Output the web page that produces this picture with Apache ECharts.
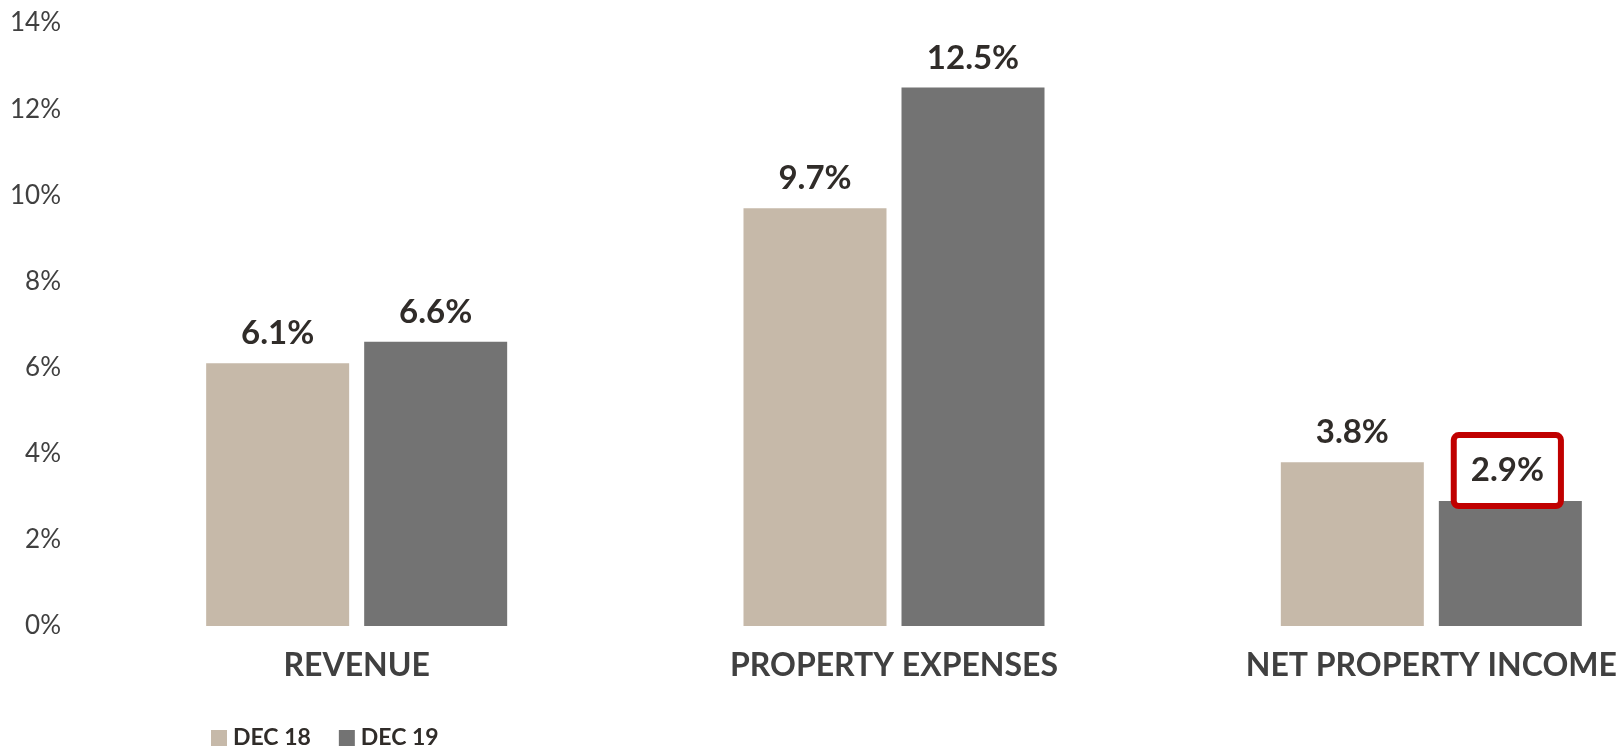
<!DOCTYPE html>
<html>
<head>
<meta charset="utf-8">
<script src="https://cdn.jsdelivr.net/npm/echarts@6/dist/echarts.min.js"></script>
<style>
  html, body { margin: 0; padding: 0; background: #ffffff; }
  #chart { width: 1621px; height: 747px; }
</style>
</head>
<body>
<div id="chart"></div>
<script>
// Year-on-year growth by line item
const categories = ['REVENUE', 'PROPERTY EXPENSES', 'NET PROPERTY INCOME'];
const seriesNames = ['DEC 18', 'DEC 19'];
const dec18 = [6.1, 9.7, 3.8];
const dec19 = [6.6, 12.5, 2.9];
const yTicks = [0, 2, 4, 6, 8, 10, 12, 14];
// index of the highlighted DEC 19 value
const highlightIndex = 2;

const FONT = 'Lato, "Open Sans", sans-serif';
const labelText = { fontFamily: FONT, fontWeight: 'bold', fontSize: 33, color: '#302c29' };

const chart = echarts.init(document.getElementById('chart'), null, { renderer: 'canvas' });

chart.setOption({
  animation: false,
  backgroundColor: '#ffffff',
  // the plot runs past the right edge of the canvas, clipping the last category label
  grid: { left: 88, width: 1612, top: 23, bottom: 121, containLabel: false, outerBoundsMode: 'none' },
  legend: {
    data: seriesNames,
    left: 206,
    top: 721,
    itemWidth: 16,
    itemHeight: 16,
    itemGap: 28,
    icon: 'rect',
    textStyle: { fontFamily: FONT, fontWeight: 'bold', fontSize: 23, lineHeight: 24, color: '#302c29', padding: [0, 0, 0, 1] }
  },
  xAxis: {
    type: 'category',
    data: categories,
    axisLine: { show: false },
    axisTick: { show: false },
    axisLabel: {
      margin: 24,
      fontFamily: FONT,
      fontWeight: 'bold',
      fontSize: 32,
      color: '#404040'
    }
  },
  yAxis: {
    type: 'value',
    min: yTicks[0],
    max: yTicks[yTicks.length - 1],
    interval: yTicks[1] - yTicks[0],
    splitLine: { show: false },
    axisLine: { show: false },
    axisTick: { show: false },
    axisLabel: {
      margin: 27,
      fontFamily: FONT,
      fontSize: 26,
      color: '#404040',
      formatter: v => v + '%'
    }
  },
  series: [
    {
      name: seriesNames[0],
      type: 'bar',
      data: dec18,
      barWidth: 143,
      barGap: '10.5%',
      itemStyle: { color: '#c6b9a9' },
      label: {
        show: true,
        position: 'top',
        distance: 13,
        formatter: p => p.value.toFixed(1) + '%',
        ...labelText
      }
    },
    {
      name: seriesNames[1],
      type: 'bar',
      data: dec19.map((v, i) => i === highlightIndex ? {
        value: v,
        label: {
          backgroundColor: '#ffffff',
          borderColor: '#c00000',
          borderWidth: 6,
          borderRadius: 2,
          padding: [16, 14, 16, 14],
          distance: -2,
          offset: [-3, 0]
        }
      } : v),
      barWidth: 143,
      barGap: '10.5%',
      itemStyle: { color: '#737373' },
      label: {
        show: true,
        position: 'top',
        distance: 13,
        formatter: p => p.value.toFixed(1) + '%',
        ...labelText
      }
    }
  ]
});
</script>
</body>
</html>
